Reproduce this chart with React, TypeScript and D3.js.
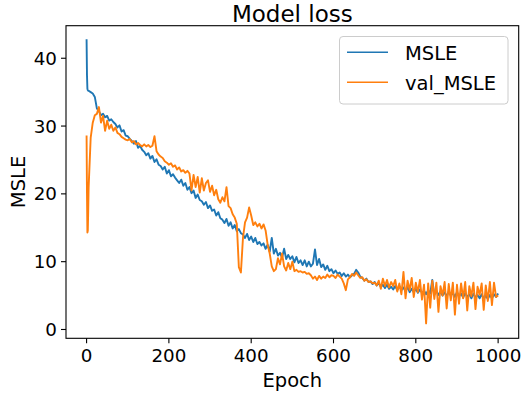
import React from 'react';
import * as d3 from 'd3';

// epochs: every epoch for the first few, then every 5th
const earlyEpochs = [0, 1, 2, 3, 4];
const epochs = [...earlyEpochs, ...d3.range(5, 1001, 5)];

const msle = [
  42.8, 37.5, 35.5, 35.3, 35.2,
  35.2, 35.0, 34.8, 34.3, 32.6, 32.2, 31.6, 31.8, 31.3, 31.5,
  30.8, 31.0, 30.6, 30.3, 29.8, 30.1, 29.2, 29.4, 28.6, 28.5,
  28.1, 27.8, 27.4, 27.8, 26.8, 27.1, 26.5, 26.2, 25.7, 26.0,
  25.2, 25.6, 24.7, 25.1, 24.3, 24.1, 23.6, 24.0, 23.0, 23.5,
  22.6, 22.9, 22.4, 22.0, 21.6, 22.1, 21.2, 21.6, 20.6, 21.0,
  20.1, 20.5, 19.4, 19.9, 19.1, 18.9, 18.4, 18.8, 17.9, 18.3,
  17.5, 17.7, 16.8, 17.3, 16.4, 16.2, 15.7, 16.3, 15.3, 15.8,
  14.9, 15.4, 14.5, 14.8, 14.2, 14.0, 13.5, 14.1, 13.2, 13.7,
  12.9, 13.5, 12.6, 12.9, 12.4, 12.7, 11.9, 12.5, 11.5, 13.5,
  11.2, 11.9, 10.9, 11.3, 10.6, 11.9, 10.4, 11.0, 10.4, 10.8,
  9.9, 10.7, 9.8, 10.2, 9.5, 10.2, 9.3, 10.0, 9.3, 9.7,
  11.8, 9.5, 10.4, 9.2, 9.6, 8.8, 9.4, 8.6, 8.9, 8.3,
  8.7, 8.2, 8.4, 7.9, 8.3, 7.8, 8.1, 7.7, 8.0, 8.2,
  8.8, 8.4, 7.8, 7.6, 7.2, 7.5, 7.0, 7.1, 6.7, 7.0,
  6.5, 6.8, 6.3, 6.6, 6.1, 6.6, 6.0, 6.3, 5.9, 6.4,
  5.8, 6.4, 5.8, 6.2, 5.6, 6.3, 5.5, 6.0, 5.5, 6.0,
  5.4, 5.9, 5.4, 5.7, 5.2, 5.8, 5.3, 7.3, 5.1, 5.7,
  5.1, 5.6, 5.0, 5.5, 4.9, 5.6, 5.0, 5.4, 4.8, 5.5,
  4.9, 5.3, 4.7, 5.4, 4.8, 5.2, 4.6, 5.3, 4.7, 5.1,
  4.6, 5.2, 4.5, 5.0, 4.5, 5.1, 4.6, 5.2, 4.8, 5.3,
];

const valMsle = [
  28.6, 20.0, 14.3, 14.6, 17.5,
  21.0, 28.3, 30.5, 31.6, 31.8, 32.8, 30.5, 31.5, 29.3, 30.8,
  29.6, 30.2, 29.3, 29.8, 29.0, 28.8, 28.4, 28.2, 28.0, 27.9,
  28.1, 27.6, 27.8, 27.3, 27.5, 27.2, 27.0, 27.3, 27.0, 27.2,
  26.9, 27.1, 28.5, 26.3, 25.8, 25.5, 25.3, 24.8, 24.6, 24.3,
  24.5, 24.0, 24.2, 23.6, 23.9, 23.3, 23.5, 23.1, 23.4, 23.0,
  20.5, 22.8, 21.0, 22.5, 20.2, 22.3, 20.5, 21.6, 22.0, 20.3,
  21.2, 19.8, 20.6, 19.2, 18.7, 19.5, 18.9, 21.0, 18.2, 17.9,
  17.0, 16.5, 15.6, 9.2, 8.4, 13.5, 15.8, 16.5, 18.0, 16.8,
  15.4, 15.8, 15.2, 15.6, 14.9, 15.5, 14.6, 12.5, 11.2, 9.3,
  8.6, 8.9, 10.5, 9.6, 11.2, 9.3, 8.7, 9.8, 8.9, 10.0,
  8.6, 8.8, 8.5, 8.6, 8.4, 8.5, 8.2, 8.3, 8.0, 7.5,
  7.8, 7.3, 7.9, 7.5, 7.8, 7.6, 8.1, 7.7, 8.0, 7.9,
  7.6, 8.1, 7.8, 7.5, 6.8, 5.8, 7.4, 7.7, 8.2, 7.9,
  8.4, 8.0, 7.6, 7.7, 7.2, 7.4, 7.0, 7.1, 6.8, 6.9,
  6.5, 7.2, 6.0, 7.5, 6.4, 7.3, 6.2, 7.0, 6.4, 7.3,
  5.6, 6.8, 5.2, 8.5, 4.6, 7.2, 5.8, 7.6, 4.8, 6.9,
  5.5, 7.3, 4.4, 6.6, 0.9, 6.8, 3.2, 7.2, 4.5, 6.9,
  2.6, 6.4, 5.0, 7.0, 3.1, 6.7, 4.3, 6.9, 2.2, 6.6,
  3.8, 6.8, 4.6, 7.0, 2.8, 6.4, 4.9, 6.9, 3.0, 6.3,
  5.1, 6.8, 2.9, 6.5, 4.2, 7.0, 3.6, 6.9, 4.8, 5.0,
];

const xTicks = [0, 200, 400, 600, 800, 1000];
const yTicks = [0, 10, 20, 30, 40];
const seriesNames = ['MSLE', 'val_MSLE'];
const colors = ['#1f77b4', '#ff7f0e'];

const W = 529, H = 395;
const left = 66, right = 518.7, top = 25.7, bottom = 338.3;
const font = 'DejaVu Sans, sans-serif';

export default function App() {
  const x = d3.scaleLinear().domain([-50, 1050]).range([left, right]);
  const y = d3.scaleLinear().domain([-1.3, 44.8]).range([bottom, top]);

  const line = (vals: number[]) =>
    d3.line<number>()
      .x((_, i) => x(epochs[i]))
      .y(d => y(d))(vals) || '';

  const series = [msle, valMsle];

  return (
    <>
      <style>{`body{margin:0}`}</style>
      <svg width={W} height={H} style={{ display: 'block' }} fontFamily={font}>
        <rect width={W} height={H} fill="#fff" />
        <defs>
          <clipPath id="plot">
            <rect x={left} y={top} width={right - left} height={bottom - top} />
          </clipPath>
        </defs>

        <g clipPath="url(#plot)">
          {series.map((s, i) => (
            <path key={i} d={line(s)} fill="none" stroke={colors[i]} strokeWidth={1.9} strokeLinejoin="round" />
          ))}
        </g>

        <rect x={left} y={top} width={right - left} height={bottom - top} fill="none" stroke="#000" strokeWidth={1.1} />

        {xTicks.map(t => (
          <g key={t} transform={`translate(${x(t)},${bottom})`}>
            <line y2={5} stroke="#000" strokeWidth={1.1} />
            <text y={23.3} textAnchor="middle" fontSize={18.3} fill="#000">{t}</text>
          </g>
        ))}
        {yTicks.map(t => (
          <g key={t} transform={`translate(${left},${y(t)})`}>
            <line x2={-5} stroke="#000" strokeWidth={1.1} />
            <text x={-9} dy="0.36em" textAnchor="end" fontSize={18.3} fill="#000">{t}</text>
          </g>
        ))}

        <text x={(left + right) / 2} y={21.5} textAnchor="middle" fontSize={23} fill="#000">Model loss</text>
        <text x={(left + right) / 2} y={386.7} textAnchor="middle" fontSize={19.5} fill="#000">Epoch</text>
        <text transform={`translate(25,${(top + bottom) / 2}) rotate(-90)`} textAnchor="middle" fontSize={19.5} fill="#000">MSLE</text>

        <g>
          <rect x={339.5} y={36.5} width={168.5} height={67.5} rx={3.5} fill="#fff" fillOpacity={0.8} stroke="#cccccc" strokeWidth={1} />
          {seriesNames.map((n, i) => (
            <g key={n}>
              <line x1={347} x2={388} y1={52.3 + i * 30} y2={52.3 + i * 30} stroke={colors[i]} strokeWidth={1.5} />
              <text x={405} y={60 + i * 30} fontSize={19.5} fill="#000">{n}</text>
            </g>
          ))}
        </g>
      </svg>
    </>
  );
}
